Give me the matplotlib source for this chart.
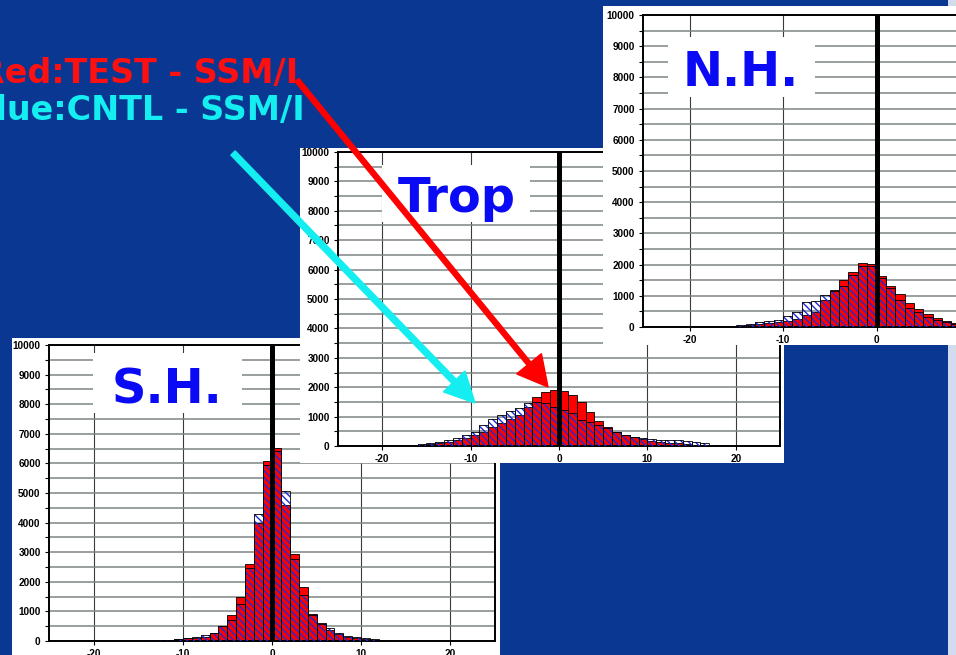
import numpy as np
import matplotlib
matplotlib.use('Agg')
import matplotlib.pyplot as plt
from matplotlib.patches import Rectangle

W, H = 956, 655

# histogram bins: left edges, each bin is 1 unit wide
sh_bins = np.arange(-14, 14)
sh_test = [10, 20, 40, 60, 90, 110, 145, 280, 520, 880, 1475, 2590, 3975, 6080,
           6510, 4595, 2930, 1815, 900, 600, 370, 225, 145, 110, 70, 40, 20, 10]
sh_cntl = [20, 30, 50, 70, 110, 145, 200, 280, 520, 710, 1240, 2455, 4280, 5945,
           6420, 5070, 2770, 1555, 880, 560, 430, 280, 180, 145, 110, 60, 40, 15]

trop_bins = np.arange(-18, 19)
trop_test = [15, 30, 50, 80, 110, 150, 205, 260, 375, 490, 660, 770, 910, 1060, 1340, 1660, 1820, 1890,
             1870, 1740, 1480, 1150, 850, 660, 470, 375, 295, 230, 180, 136, 115, 90, 68, 45, 30, 20, 0]
trop_cntl = [20, 40, 70, 110, 150, 205, 260, 375, 470, 720, 910, 1070, 1200, 1300, 1450, 1500, 1460, 1340,
             1230, 1110, 900, 800, 720, 600, 480, 380, 300, 270, 230, 220, 200, 190, 180, 150, 100, 50, 20]

nh_bins = np.arange(-16, 9)
nh_test = [20, 40, 65, 110, 130, 160, 195, 270, 380, 490, 870, 1170, 1500, 1760, 2065, 2010,
           1650, 1300, 1065, 760, 575, 410, 300, 195, 130]
nh_cntl = [30, 55, 110, 160, 195, 240, 350, 490, 815, 840, 1030, 1150, 1300, 1680, 1960, 1960,
           1580, 1250, 870, 600, 490, 330, 240, 160, 110]

x_ticks = [-20, -10, 0, 10, 20]
y_ticks = np.arange(0, 10001, 1000)

plt.rcParams['axes.unicode_minus'] = False
plt.rcParams['hatch.linewidth'] = 1.0

fig = plt.figure(figsize=(W / 100, H / 100), dpi=100)
fig.patch.set_facecolor('#0a3791')
fig.add_artist(Rectangle((948 / W, 0), 8 / W, 1, transform=fig.transFigure,
                         fc='#d3dcef', ec='none', zorder=0.2))


def px_box(x0, y0, x1, y1):
    # pixel box (top-left origin) -> [left, bottom, width, height] in figure fraction
    return [x0 / W, 1 - y1 / H, (x1 - x0) / W, (y1 - y0) / H]


def panel(bg, axbox, bins, test, cntl, z):
    l, b, w, h = px_box(*bg)
    fig.add_artist(Rectangle((l, b), w, h, transform=fig.transFigure,
                             fc='white', ec='none', zorder=z))
    ax = fig.add_axes(px_box(*axbox), zorder=z + 0.5)
    ax.set_facecolor('white')
    ax.bar(bins, test, width=1, align='edge', color='#ff0000',
           edgecolor='black', linewidth=0.6, zorder=2)
    ax.bar(bins, cntl, width=1, align='edge', fill=False, hatch='\\' * 5,
           edgecolor='#1f2ad8', linewidth=0, zorder=3)
    ax.bar(bins, cntl, width=1, align='edge', fill=False,
           edgecolor='black', linewidth=0.6, zorder=3.1)
    ax.axvline(0, color='black', lw=3.6, zorder=5)
    ax.set_xlim(-25, 25)
    ax.set_ylim(0, 10000)
    ax.set_xticks(x_ticks)
    ax.set_yticks(y_ticks)
    ax.set_yticks(np.arange(500, 10000, 1000), minor=True)
    ax.set_axisbelow(True)
    ax.grid(axis='y', which='both', color='#7d8585', lw=1.1)
    ax.grid(axis='x', which='major', color='#3a3a3a', lw=0.8)
    ax.tick_params(axis='both', which='both', direction='out', length=3,
                   width=0.8, labelsize=7.2, pad=3, colors='black')
    for t in ax.get_xticklabels() + ax.get_yticklabels():
        t.set_family('Liberation Sans')
        t.set_fontweight('bold')
    for s in ax.spines.values():
        s.set_color('black')
        s.set_linewidth(1.4)
    return ax


panel((12, 338, 500, 670), (49, 345, 495, 641), sh_bins, sh_test, sh_cntl, 1)
panel((300, 148, 784, 463), (338, 152, 780, 446), trop_bins, trop_test, trop_cntl, 3)
panel((603, 6, 1200, 345), (643, 15, 1110, 327), nh_bins, nh_test, nh_cntl, 5)

# overlay in pixel coordinates for labels, text and arrows
ov = fig.add_axes([0, 0, 1, 1], zorder=10)
ov.set_xlim(0, W)
ov.set_ylim(H, 0)
ov.axis('off')
ov.patch.set_alpha(0)

label_font = dict(fontsize=34.5, fontweight='bold', color='#0a0af5',
                  family='DejaVu Sans', ha='center', va='baseline')
for (x0, y0, x1, y1), (tx, ty), name in [((382, 165, 530, 222), (457, 212), 'Trop'),
                                         ((668, 37, 815, 97), (741, 86), 'N.H.'),
                                         ((93, 353, 242, 413), (167, 403), 'S.H.')]:
    ov.add_patch(Rectangle((x0, y0), x1 - x0, y1 - y0, fc='white', ec='none', zorder=1))
    ov.text(tx, ty, name, zorder=2, **label_font)

ov.text(298, 83, 'Red:TEST - SSM/I', color='#ff1010', fontsize=24, fontweight='bold',
        family='DejaVu Sans', ha='right', va='baseline', zorder=3)
ov.text(305, 120, 'Blue:CNTL - SSM/I', color='#14eef0', fontsize=24, fontweight='bold',
        family='DejaVu Sans', ha='right', va='baseline', zorder=3)

ov.arrow(297, 80, 548 - 297, 387 - 80, width=5, head_width=32, head_length=30,
         length_includes_head=True, color='#ff0000', zorder=6)
ov.arrow(233, 153, 475 - 233, 403 - 153, width=6, head_width=30, head_length=30,
         length_includes_head=True, color='#14eef0', zorder=6)

plt.savefig('out.png', dpi=100, facecolor=fig.get_facecolor())
